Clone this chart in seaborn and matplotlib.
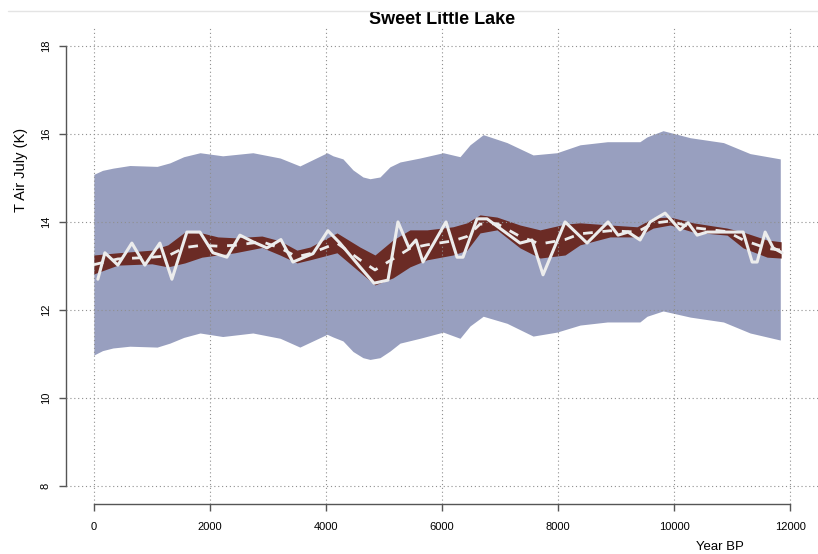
# Sweet Little Lake - reconstructed July air temperature
import numpy as np
import pandas as pd
import matplotlib
matplotlib.use("Agg")
import matplotlib.pyplot as plt
import seaborn as sns
from matplotlib.lines import Line2D

# =========================================
# DATA
# =========================================

# wide blue envelope
blue_years = [0, 150, 330, 620, 1090, 1310, 1550, 1830, 2220, 2740, 3210, 3550,
              4020, 4121, 4293, 4466, 4638, 4759, 4931, 5103, 5276, 5620, 6020,
              6310, 6483, 6710, 7120, 7570, 7980, 8380, 8850, 9410, 9534, 9810,
              10280, 10850, 11310, 11830]
blue_upper = [15.08, 15.17, 15.22, 15.28, 15.26, 15.34, 15.48, 15.57, 15.50, 15.57,
              15.45, 15.27, 15.57, 15.50, 15.43, 15.18, 15.02, 14.98, 15.02, 15.25,
              15.36, 15.45, 15.57, 15.48, 15.75, 15.98, 15.80, 15.52, 15.57, 15.75,
              15.82, 15.82, 15.93, 16.07, 15.91, 15.80, 15.55, 15.43]
blue_lower = [10.98, 11.08, 11.14, 11.18, 11.16, 11.25, 11.38, 11.48, 11.40, 11.48,
              11.36, 11.16, 11.45, 11.39, 11.30, 11.06, 10.92, 10.88, 10.92, 11.07,
              11.25, 11.36, 11.50, 11.36, 11.64, 11.86, 11.70, 11.41, 11.50, 11.66,
              11.73, 11.73, 11.86, 11.98, 11.84, 11.73, 11.48, 11.32]

# narrow red envelope and its mean (dashed)
red_years = [0, 414, 1000, 1276, 1569, 1862, 2138, 2431, 2897, 3207, 3500, 3724,
             4190, 4586, 4845, 5155, 5448, 5741, 6190, 6431, 6655, 6948, 7345,
             7690, 8121, 8379, 8897, 9362, 9638, 9931, 10328, 10914, 11190, 11603,
             11845]
red_upper = [13.25, 13.30, 13.36, 13.48, 13.77, 13.75, 13.66, 13.64, 13.68, 13.57,
             13.36, 13.43, 13.75, 13.43, 13.25, 13.59, 13.82, 13.82, 13.89, 13.98,
             14.16, 14.11, 13.93, 13.82, 13.95, 13.98, 13.93, 13.89, 14.09, 14.11,
             13.98, 13.86, 13.77, 13.59, 13.55]
red_lower = [12.82, 13.02, 13.05, 12.98, 13.07, 13.20, 13.25, 13.30, 13.42, 13.25,
             13.07, 13.14, 13.30, 12.86, 12.57, 12.73, 12.98, 13.14, 13.25, 13.36,
             13.75, 13.82, 13.41, 13.18, 13.25, 13.48, 13.66, 13.66, 13.86, 13.93,
             13.77, 13.70, 13.41, 13.20, 13.18]
red_mean = [13.03, 13.16, 13.20, 13.23, 13.42, 13.47, 13.45, 13.47, 13.55, 13.41,
            13.21, 13.28, 13.52, 13.14, 12.91, 13.16, 13.40, 13.48, 13.57, 13.67,
            13.95, 13.96, 13.67, 13.50, 13.60, 13.73, 13.80, 13.77, 13.97, 14.02,
            13.87, 13.78, 13.59, 13.40, 13.36]

# sample reconstruction (white zigzag)
sample_years = [69, 190, 414, 655, 879, 1138, 1345, 1603, 1828, 2052, 2293, 2517,
                2741, 2983, 3224, 3431, 3776, 4034, 4241, 4586, 4828, 5069, 5241,
                5431, 5552, 5672, 6069, 6259, 6362, 6603, 6776, 7345, 7552, 7741,
                8121, 8500, 8862, 9034, 9207, 9414, 9586, 9845, 10103, 10241, 10397,
                10569, 11190, 11345, 11431, 11569, 11707, 11862]
sample_temp = [12.70, 13.30, 13.02, 13.52, 13.02, 13.52, 12.70, 13.77, 13.77, 13.30,
               13.20, 13.70, 13.55, 13.41, 13.60, 13.09, 13.28, 13.80, 13.52, 12.98,
               12.61, 12.68, 14.00, 13.41, 13.59, 13.09, 14.00, 13.20, 13.20, 14.07,
               14.07, 13.52, 13.59, 12.80, 14.00, 13.52, 14.00, 13.70, 13.77, 13.59,
               14.00, 14.20, 13.82, 13.98, 13.70, 13.77, 13.77, 13.09, 13.09, 13.77,
               13.41, 13.30]

x_ticks = [0, 2000, 4000, 6000, 8000, 10000, 12000]
y_ticks = [8, 10, 12, 14, 16, 18]

blue_df = pd.DataFrame({"year": blue_years, "upper": blue_upper, "lower": blue_lower})
red_df = pd.DataFrame({"year": red_years, "upper": red_upper,
                       "lower": red_lower, "mean": red_mean})
sample_df = pd.DataFrame({"year": sample_years, "temp": sample_temp})

# =========================================
# PLOT
# =========================================

sns.set_style("white")
plt.rcParams["font.family"] = ["Liberation Sans", "DejaVu Sans"]
plt.rcParams["text.color"] = "black"

fig = plt.figure(figsize=(8.18, 5.54), dpi=100)
ax = fig.add_axes([66 / 818, 50 / 554, 752 / 818, 476 / 554])

ax.fill_between(blue_df["year"], blue_df["lower"], blue_df["upper"],
                color="#989fbf", lw=0, zorder=1)
ax.fill_between(red_df["year"], red_df["lower"], red_df["upper"],
                color="#6b2b25", lw=0, zorder=1.5)

sns.lineplot(data=sample_df, x="year", y="temp", ax=ax, color="#ececec",
             lw=2.2, sort=False, estimator=None, zorder=4,
             solid_joinstyle="round", solid_capstyle="round")
sns.lineplot(data=red_df, x="year", y="mean", ax=ax, color="#ececec",
             lw=2.0, sort=False, estimator=None, zorder=3,
             linestyle=(0, (3.5, 3.5)))

ax.set_xlim(-480, 12480)
ax.set_ylim(7.6, 18.4)
ax.set_xticks(x_ticks)
ax.set_yticks(y_ticks)

ax.set_axisbelow(False)
ax.grid(True, color="#8f8f8f", lw=0.8, linestyle=(0, (1, 2.5)), zorder=2)

for side in ["top", "right"]:
    ax.spines[side].set_visible(False)
ax.spines["left"].set_bounds(8, 18)
ax.spines["bottom"].set_bounds(0, 12000)
for side in ["left", "bottom"]:
    ax.spines[side].set_color("#555555")
    ax.spines[side].set_linewidth(1.0)

ax.tick_params(axis="both", which="major", direction="out", length=5,
               width=1.0, color="#555555", labelcolor="black", labelsize=8,
               bottom=True, left=True)
ax.tick_params(axis="x", pad=8)
ax.tick_params(axis="y", pad=6, labelrotation=90)
for lab in ax.get_yticklabels():
    lab.set_va("center")

ax.set_xlabel("")
ax.set_ylabel("")
ax.set_title("Sweet Little Lake", fontsize=13, fontweight="bold", pad=3,
             color="black")

fig.text(21 / 818, 1 - 170 / 554, "T Air July (K)", rotation=90,
         ha="center", va="center", fontsize=10.5, color="black")
fig.text(720 / 818, 1 - 547 / 554, "Year BP", ha="center", va="center",
         fontsize=9.5, color="black")

fig.add_artist(Line2D([8 / 818, 1.0], [1 - 10.5 / 554] * 2,
                      color="#e4e4e4", lw=1.0))

fig.savefig("out.png", dpi=100)
